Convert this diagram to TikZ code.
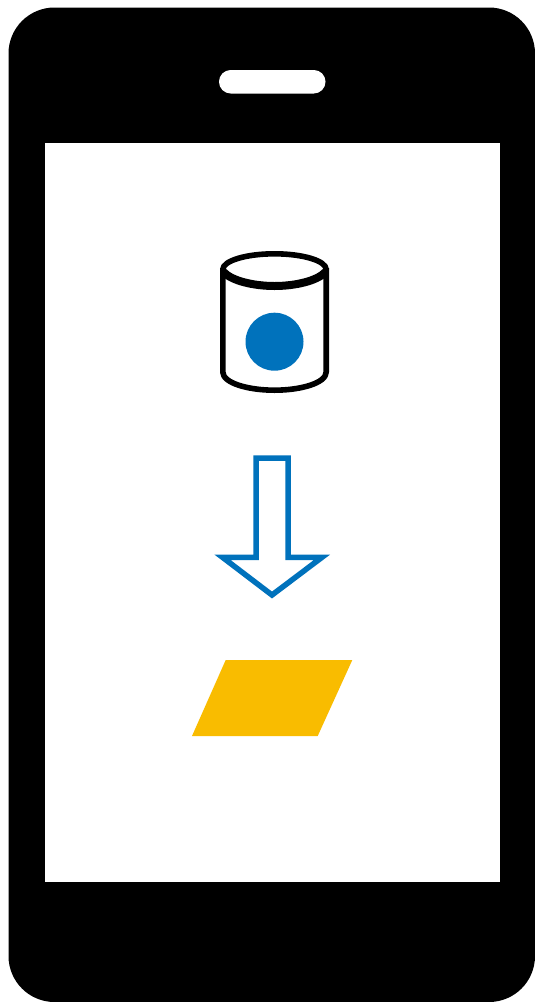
\documentclass[tikz,border=0pt]{standalone}
\definecolor{pblue}{HTML}{0072BC}
\definecolor{pyellow}{HTML}{F9BC00}
\tikzset{
  phone/.style={fill=black,rounded corners=46pt},
  screen/.style={fill=white},
  pill/.style={fill=white,rounded corners=11.7pt},
  can/.style={draw=black,line width=5.6pt,fill=white,line join=round},
  arrowline/.style={draw=pblue,line width=5.5pt,fill=white,miter limit=10,line join=miter}
}
\begin{document}
\begin{tikzpicture}[x=1pt,y=-1pt]
\useasboundingbox (0,0) rectangle (535,1002);
\fill[white] (0,0) rectangle (535,1002);
% phone
\path[phone] (8.5,7.5) rectangle (535,1002);
\path[screen] (44.5,142.5) rectangle (499.5,882);
\path[pill] (219,70) rectangle (325.5,93.5);
% cylinder
\path[can] (222.8,268) -- (222.8,372) .. controls (222.8,383) and (248,390.2) .. (274.5,390.2)
  .. controls (301,390.2) and (326.2,383) .. (326.2,372) -- (326.2,268);
\path[can] (274.5,269.5) ellipse [x radius=51.7,y radius=15.7];
\draw[black,line width=8pt] (223.5,272) .. controls (232,281) and (254,286) .. (274.5,286)
  .. controls (295,286) and (317,281) .. (325.5,272);
\fill[pblue] (274.5,341.7) circle [radius=29];
% arrow
\path[arrowline] (256,458) -- (288,458) -- (288,557.3) -- (322,557.3) -- (272,595) -- (222.5,557.3) -- (256,557.3) -- cycle;
% parallelogram
\fill[pyellow] (225.7,660) -- (352.3,660) -- (317.7,736) -- (192,736) -- cycle;
\end{tikzpicture}
\end{document}
